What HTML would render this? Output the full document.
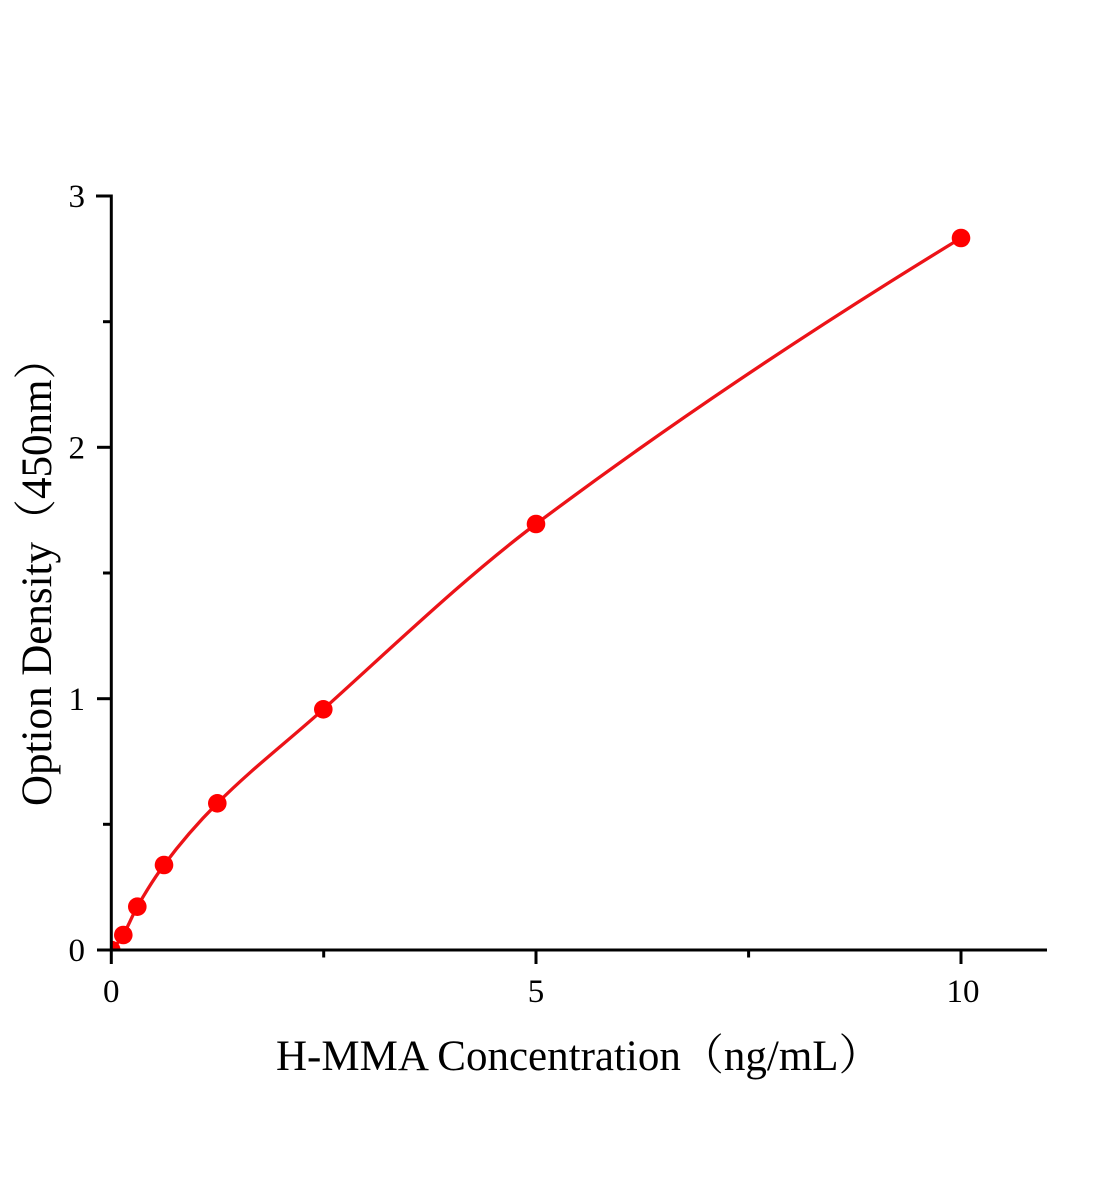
<!DOCTYPE html>
<html><head><meta charset="utf-8"><style>
html,body{margin:0;padding:0;background:#fff;}
svg{display:block;}
text{font-family:"Liberation Serif","Noto Serif CJK SC",serif;fill:#000;}
</style></head><body>
<svg width="1104" height="1200" viewBox="0 0 1104 1200" xmlns="http://www.w3.org/2000/svg">
<rect width="1104" height="1200" fill="#fff"/>
<defs><clipPath id="c"><rect x="111.3" y="150" width="960" height="800"/></clipPath></defs>
<!-- curve -->
<path clip-path="url(#c)" fill="none" stroke="#ec1318" stroke-width="3.3" stroke-linejoin="round"
d="M111.3,950 C115.3,945.2 119.3,942.2 123.3,935 C127.97,926.6 132.63,914.87 137.3,906.7 C146.2,891.12 155.1,877.02 164,865 C181.77,841.01 199.53,821.07 217.3,803.3 C252.63,767.97 287.97,741.1 323.3,709.3 C394.2,645.49 465.1,577.18 536,524 C677.67,417.75 819.33,324.42 961,238"/>
<!-- markers -->
<g fill="#ff0000">
<circle clip-path="url(#c)" cx="111.3" cy="950" r="9.3"/>
<circle cx="123.3" cy="935" r="9.3"/>
<circle cx="137.3" cy="906.7" r="9.3"/>
<circle cx="164" cy="865" r="9.3"/>
<circle cx="217.3" cy="803.3" r="9.3"/>
<circle cx="323.3" cy="709.3" r="9.3"/>
<circle cx="536" cy="524" r="9.3"/>
<circle cx="961" cy="238" r="9.3"/>
</g>
<!-- axes -->
<g stroke="#000" stroke-width="3" fill="none">
<line x1="111.3" y1="194.5" x2="111.3" y2="964"/>
<line x1="97" y1="950" x2="1047" y2="950"/>
<line x1="97" y1="698.7" x2="111.3" y2="698.7"/>
<line x1="97" y1="447.3" x2="111.3" y2="447.3"/>
<line x1="96" y1="196" x2="111.3" y2="196"/>
<line x1="103" y1="824.3" x2="111.3" y2="824.3"/>
<line x1="103" y1="573" x2="111.3" y2="573"/>
<line x1="103" y1="321.7" x2="111.3" y2="321.7"/>
<line x1="536" y1="950" x2="536" y2="964"/>
<line x1="961" y1="950" x2="961" y2="964"/>
<line x1="323.7" y1="950" x2="323.7" y2="957.5"/>
<line x1="748.6" y1="950" x2="748.6" y2="957.5"/>
</g>
<!-- tick labels -->
<g font-size="33" text-anchor="end">
<text x="85" y="961">0</text>
<text x="85" y="710">1</text>
<text x="85" y="458.5">2</text>
<text x="85" y="207">3</text>
</g>
<g font-size="33" text-anchor="middle">
<text x="111.3" y="1002">0</text>
<text x="536" y="1002">5</text>
<text x="963" y="1002">10</text>
</g>
<!-- axis titles -->
<text x="276" y="1070" font-size="43">H-MMA Concentration（ng/mL）</text>
<text transform="translate(51,806) rotate(-90)" x="0" y="0" font-size="43">Option Density（450nm）</text>
</svg>
</body></html>
